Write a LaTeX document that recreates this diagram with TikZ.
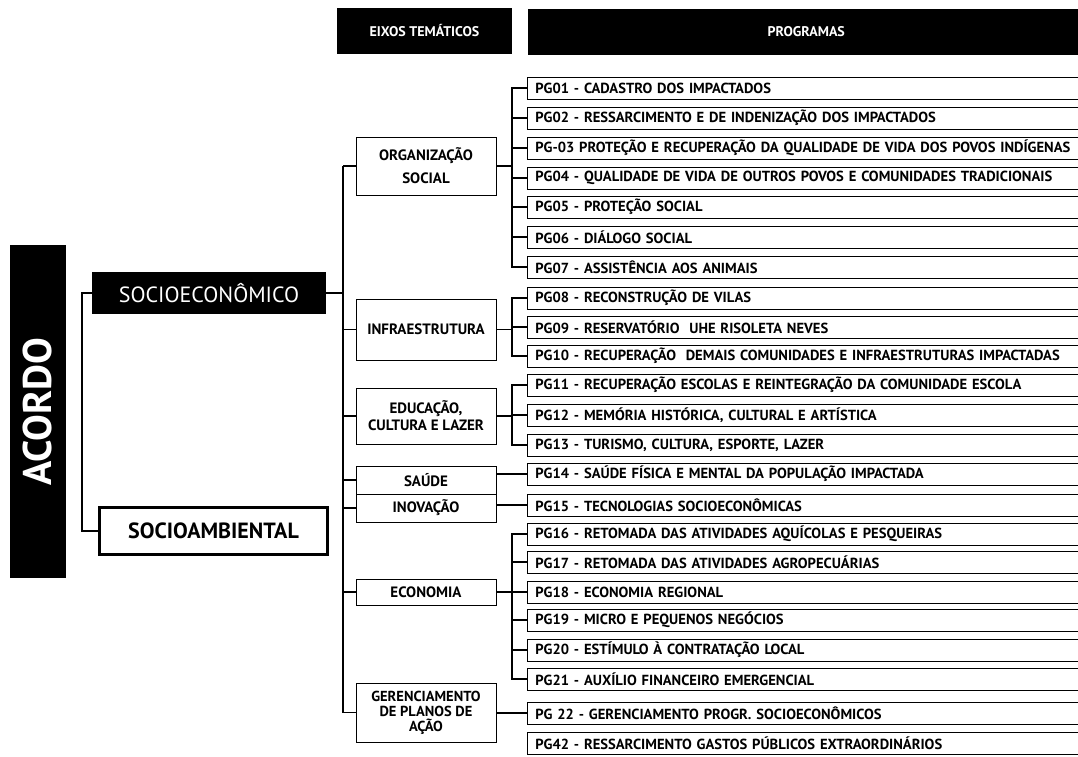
\documentclass[tikz,border=0pt]{standalone}
\usepackage{fontspec}
\setmainfont{PT Sans}
\begin{document}
\begin{tikzpicture}[x=1pt,y=-1pt,
  hdr/.style={fill=black,text=white,font=\bfseries\fontsize{14}{15}\selectfont,inner sep=0pt,minimum height=46pt},
  theme/.style={draw=black,line width=0.8pt,fill=white,font=\bfseries\fontsize{15}{17}\selectfont,align=center,inner sep=0pt,minimum width=140pt},
  prog/.style={draw=black,line width=0.8pt,anchor=west,minimum height=22pt,inner xsep=8pt,inner ysep=0pt,text width=540pt,align=left,font=\bfseries\fontsize{14.6}{16}\selectfont},
  conn/.style={line width=1.7pt}]
\useasboundingbox (0,0) rectangle (1078,757);

% headers
\node[hdr,minimum width=175pt] (eixos) at (424.5,31) {EIXOS TEMÁTICOS};
\node[hdr,anchor=west,minimum width=556pt] (progs) at (528,32) {PROGRAMAS};

% left column
\node[fill=black,rotate=90,minimum width=333pt,minimum height=56pt,inner sep=0pt,text=white,font=\bfseries\fontsize{40}{42}\selectfont] (acordo) at (37.5,411.5) {ACORDO};
\node[fill=black,text=white,minimum width=234pt,minimum height=42pt,inner sep=0pt,font=\fontsize{22}{24}\selectfont] (se) at (209,293) {SOCIOECONÔMICO};
\node[draw=black,line width=3pt,fill=white,minimum width=228pt,minimum height=47pt,inner sep=0pt,font=\bfseries\fontsize{22}{24}\selectfont] (sa) at (213.5,531) {SOCIOAMBIENTAL};

% themes
\node[theme,minimum height=58pt] (os) at (426,166) {ORGANIZAÇÃO\\[6pt]SOCIAL};
\node[theme,minimum height=61pt] (infra) at (426,329.5) {INFRAESTRUTURA};
\node[theme,minimum height=56pt] (edu) at (426,416) {EDUCAÇÃO,\\CULTURA E LAZER};
\node[theme,minimum height=28pt] (saude) at (426,480) {SAÚDE};
\node[theme,minimum height=28pt] (inov) at (426,508) {INOVAÇÃO};
\node[theme,minimum height=26pt] (eco) at (426,592) {ECONOMIA};
\node[theme,minimum height=59pt,font=\bfseries\fontsize{14.5}{15}\selectfont] (ger) at (426,712.5) {GERENCIAMENTO\\DE PLANOS DE\\AÇÃO};

% programs
\node[prog] (p1) at (527,88) {PG01 - CADASTRO DOS IMPACTADOS};
\node[prog] (p2) at (527,118) {PG02 - RESSARCIMENTO E DE INDENIZAÇÃO DOS IMPACTADOS};
\node[prog] (p3) at (527,148) {PG-03 PROTEÇÃO E RECUPERAÇÃO DA QUALIDADE DE VIDA DOS POVOS INDÍGENAS};
\node[prog] (p4) at (527,178) {PG04 - QUALIDADE DE VIDA DE OUTROS POVOS E COMUNIDADES TRADICIONAIS};
\node[prog] (p5) at (527,207) {PG05 - PROTEÇÃO SOCIAL};
\node[prog] (p6) at (527,237) {PG06 - DIÁLOGO SOCIAL};
\node[prog] (p7) at (527,267) {PG07 - ASSISTÊNCIA AOS ANIMAIS};
\node[prog] (p8) at (527,298) {PG08 - RECONSTRUÇÃO DE VILAS};
\node[prog] (p9) at (527,327) {PG09 - RESERVATÓRIO~ UHE RISOLETA NEVES};
\node[prog] (p10) at (527,356) {PG10 - RECUPERAÇÃO~ DEMAIS COMUNIDADES E INFRAESTRUTURAS IMPACTADAS};
\node[prog] (p11) at (527,385) {PG11 - RECUPERAÇÃO ESCOLAS E REINTEGRAÇÃO DA COMUNIDADE ESCOLA};
\node[prog] (p12) at (527,415) {PG12 - MEMÓRIA HISTÓRICA, CULTURAL E ARTÍSTICA};
\node[prog] (p13) at (527,445) {PG13 - TURISMO, CULTURA, ESPORTE, LAZER};
\node[prog] (p14) at (527,474) {PG14 - SAÚDE FÍSICA E MENTAL DA POPULAÇÃO IMPACTADA};
\node[prog] (p15) at (527,505) {PG15 - TECNOLOGIAS SOCIOECONÔMICAS};
\node[prog] (p16) at (527,534) {PG16 - RETOMADA DAS ATIVIDADES AQUÍCOLAS E PESQUEIRAS};
\node[prog] (p17) at (527,562) {PG17 - RETOMADA DAS ATIVIDADES AGROPECUÁRIAS};
\node[prog] (p18) at (527,592) {PG18 - ECONOMIA REGIONAL};
\node[prog] (p19) at (527,620) {PG19 - MICRO E PEQUENOS NEGÓCIOS};
\node[prog] (p20) at (527,650) {PG20 - ESTÍMULO À CONTRATAÇÃO LOCAL};
\node[prog] (p21) at (527,679) {PG21 - AUXÍLIO FINANCEIRO EMERGENCIAL};
\node[prog] (p22) at (527,713) {PG 22 - GERENCIAMENTO PROGR. SOCIOECONÔMICOS};
\node[prog] (p42) at (527,743) {PG42 - RESSARCIMENTO GASTOS PÚBLICOS EXTRAORDINÁRIOS};

% connectors: left bracket
\draw[conn] (se.west) -- ++(-10,0) |- (sa.west);

% themes trunk
\coordinate (tx) at (343,0);
\draw[conn] (se.east) -- (se.east -| tx);
\draw[conn] (os.west -| tx) -- (ger.west -| tx);
\foreach \t in {os,infra,edu,saude,inov,eco,ger}
  \draw[conn] (\t.west -| tx) -- (\t.west);

% program brackets
\coordinate (px) at (512,0);
\draw[conn] (os.east) -- (os.east -| px);
\draw[conn] (p1.west) -- (p1.west -| px) -- (p7.west -| px) -- (p7.west);
\foreach \i in {2,...,6} \draw[conn] (p\i.west -| px) -- (p\i.west);

\draw[conn] (infra.east) -- (infra.east -| px);
\draw[conn] (p8.west) -- (p8.west -| px) -- (p10.west -| px) -- (p10.west);
\draw[conn] (p9.west -| px) -- (p9.west);

\draw[conn] (edu.east) -- (edu.east -| px);
\draw[conn] (p11.west) -- (p11.west -| px) -- (p13.west -| px) -- (p13.west);
\draw[conn] (p12.west -| px) -- (p12.west);

\draw[conn] (p14.west -| saude.east) -- (p14.west);
\draw[conn] (p15.west -| inov.east) -- (p15.west);

\draw[conn] (eco.east) -- (eco.east -| px);
\draw[conn] (p16.west) -- (p16.west -| px) -- (p21.west -| px) -- (p21.west);
\foreach \i in {17,...,20} \draw[conn] (p\i.west -| px) -- (p\i.west);

\draw[conn] (p22.west -| ger.east) -- (p22.west);
\end{tikzpicture}
\end{document}
